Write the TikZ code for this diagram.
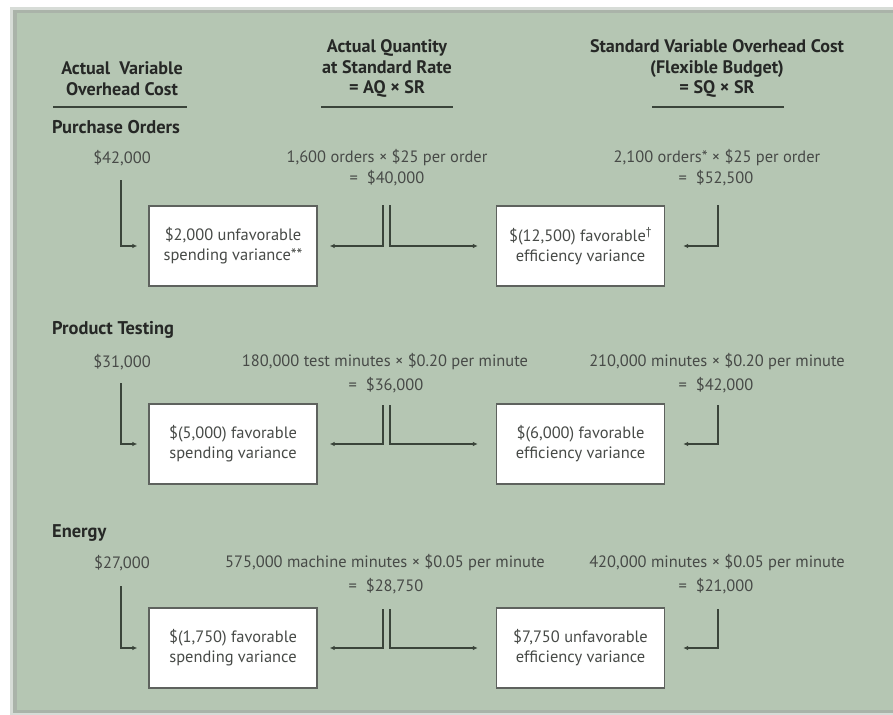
\documentclass[tikz,border=0pt]{standalone}
\usepackage{fontspec}
\setmainfont{PT Sans}
\usetikzlibrary{arrows.meta}
\definecolor{panel}{HTML}{B5C6B3}
\definecolor{panelshade}{HTML}{8E9A8C}
\definecolor{txtcol}{HTML}{474A47}
\definecolor{hdrcol}{HTML}{262826}
\definecolor{linecol}{HTML}{3A443A}
\definecolor{boxcol}{HTML}{5E625E}
\begin{document}
\begin{tikzpicture}[x=1bp,y=-1bp,
  hdr/.style={font=\bfseries\fontsize{18.2}{21}\selectfont, align=center, text=hdrcol, inner sep=0pt},
  sect/.style={font=\bfseries\fontsize{18.5}{19}\selectfont, text=hdrcol, anchor=west, inner sep=0pt},
  val/.style={font=\fontsize{16.5}{18}\selectfont, text=txtcol, inner sep=0pt},
  vbox/.style={draw=boxcol, line width=1.3bp, fill=white, minimum width=168bp, minimum height=80bp,
    align=center, font=\fontsize{16.5}{20}\selectfont, text=txtcol, inner sep=0pt},
  uline/.style={draw=linecol, line width=1.2bp},
  conn/.style={draw=linecol, line width=1.1bp},
  arr/.style={conn, -{Latex[length=5bp,width=4.5bp]}}
]
\useasboundingbox (0,0) rectangle (893,715);
\fill[white] (0,0) rectangle (893,715);
\fill[panelshade!35] (10,7) rectangle (900,715);
\fill[panelshade!75] (13,10) rectangle (900,713);
\fill[panel] (17,13) rectangle (900,710);

% headers
\node[hdr] (h1) at (122,79) {Actual\ \ Variable\\Overhead Cost};
\node[hdr] (h2) at (387,68.5) {Actual Quantity\\at Standard Rate\\= AQ × SR};
\node[hdr] (h3) at (717,68.5) {Standard Variable Overhead Cost\\(Flexible Budget)\\= SQ × SR};
\draw[uline] (53,107) -- (187,107);
\draw[uline] (321,107) -- (453,107);
\draw[uline] (652,107) -- (784,107);

% ---------- Row 1: Purchase Orders
\node[sect] (t1) at (52,127) {Purchase Orders};
\node[val] (a1) at (122,158) {\$42,000};
\node[val] (b1) at (387,158) {1,600 orders × \$25 per order};
\node[val] (b1e) at (387,178) {= \ \$40,000};
\node[val] (c1) at (717,158) {2,100 orders* × \$25 per order};
\node[val] (c1e) at (716,178) {= \ \$52,500};
\node[vbox] (s1) at (233,246) {\$2,000 unfavorable\\spending variance**};
\node[vbox] (e1) at (580.5,246) {\$(12,500) favorable\textsuperscript{†}\\efficiency variance};
\coordinate (p1a) at (121,180);
\coordinate (p1l) at (383,205);
\coordinate (p1r) at (390,205);
\coordinate (p1c) at (718,205);
\draw[arr, shorten >=11bp] (p1a) |- (s1.west);
\draw[arr, shorten >=12bp] (p1l) |- (s1.east);
\draw[arr, shorten >=18bp] (p1r) |- (e1.west);
\draw[arr, shorten >=18bp] (p1c) |- (e1.east);

% ---------- Row 2: Product Testing
\node[sect] (t2) at (52,330) {Product Testing};
\node[val] (a2) at (122,362) {\$31,000};
\node[val] (b2) at (385,362) {180,000 test minutes × \$0.20 per minute};
\node[val] (b2e) at (386,385) {= \ \$36,000};
\node[val] (c2) at (717,362) {210,000 minutes × \$0.20 per minute};
\node[val] (c2e) at (716,385) {= \ \$42,000};
\node[vbox] (s2) at (233,444) {\$(5,000) favorable\\spending variance};
\node[vbox] (e2) at (580.5,444) {\$(6,000) favorable\\efficiency variance};
\coordinate (p2a) at (121,383);
\coordinate (p2l) at (383,405);
\coordinate (p2r) at (390,405);
\coordinate (p2c) at (718,405);
\draw[arr, shorten >=11bp] (p2a) |- (s2.west);
\draw[arr, shorten >=12bp] (p2l) |- (s2.east);
\draw[arr, shorten >=18bp] (p2r) |- (e2.west);
\draw[arr, shorten >=18bp] (p2c) |- (e2.east);

% ---------- Row 3: Energy
\node[sect] (t3) at (52,533) {Energy};
\node[val] (a3) at (122,563) {\$27,000};
\node[val] (b3) at (385,563) {575,000 machine minutes × \$0.05 per minute};
\node[val] (b3e) at (386,586) {= \ \$28,750};
\node[val] (c3) at (717,563) {420,000 minutes × \$0.05 per minute};
\node[val] (c3e) at (716,586) {= \ \$21,000};
\node[vbox] (s3) at (233,648) {\$(1,750) favorable\\spending variance};
\node[vbox] (e3) at (580.5,648) {\$7,750 unfavorable\\efficiency variance};
\coordinate (p3a) at (121,586);
\coordinate (p3l) at (383,609);
\coordinate (p3r) at (390,609);
\coordinate (p3c) at (718,609);
\draw[arr, shorten >=11bp] (p3a) |- (s3.west);
\draw[arr, shorten >=12bp] (p3l) |- (s3.east);
\draw[arr, shorten >=18bp] (p3r) |- (e3.west);
\draw[arr, shorten >=18bp] (p3c) |- (e3.east);
\end{tikzpicture}
\end{document}
